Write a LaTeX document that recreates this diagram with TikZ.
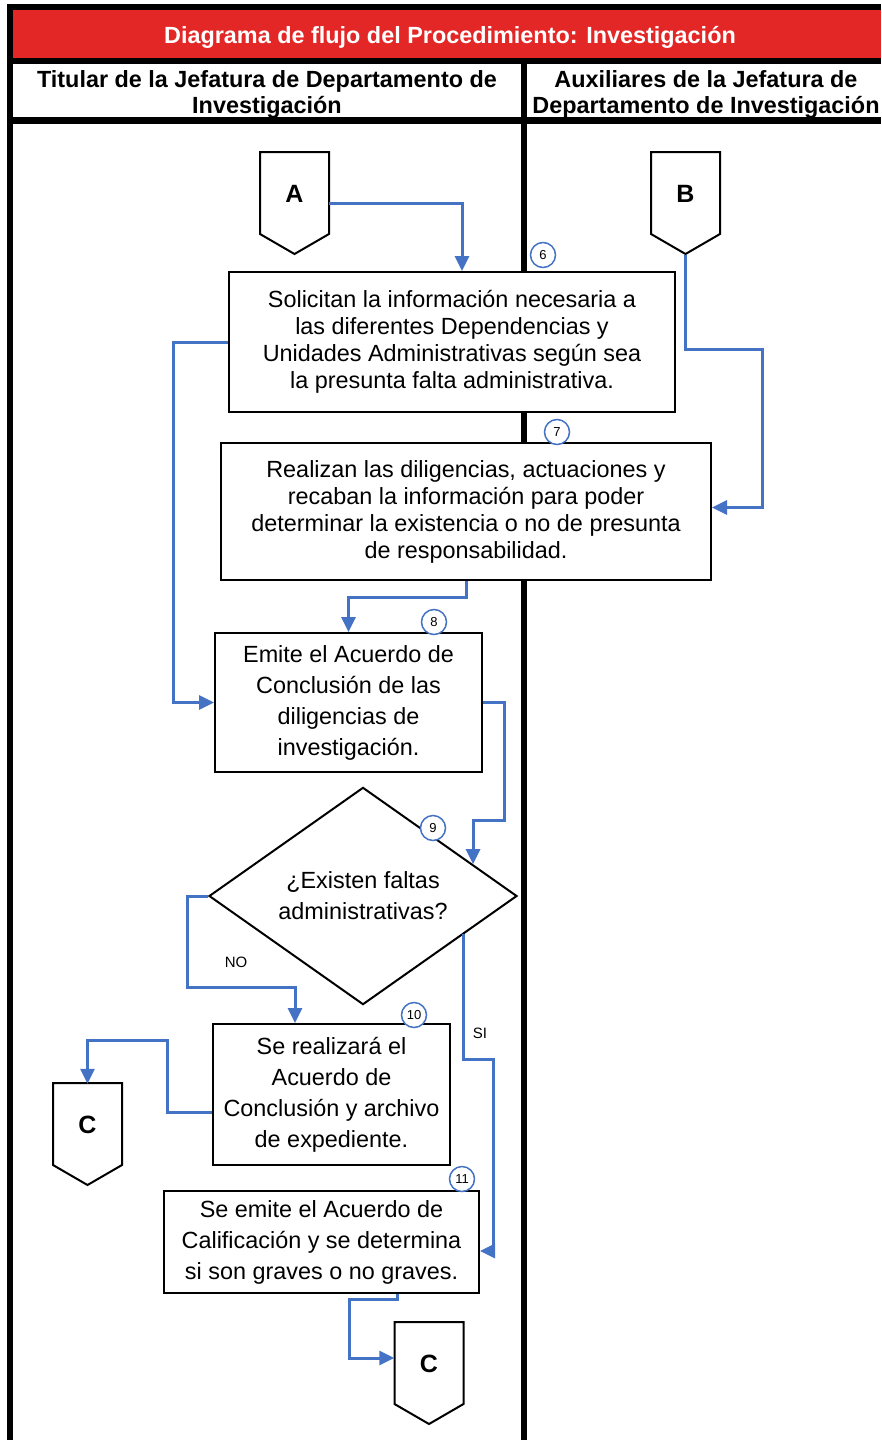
\documentclass[tikz,border=0pt]{standalone}
\usepackage{fontspec}
\setmainfont{Liberation Sans}
\usetikzlibrary{arrows.meta,calc,positioning,shapes.geometric}
\definecolor{bandred}{HTML}{E32726}
\definecolor{flowblue}{HTML}{4472C4}
\tikzset{procbox/.style={draw=black,line width=2pt,fill=white,inner sep=0pt,align=center,font=\fontsize{23.4}{27}\selectfont},
tallbox/.style={procbox,font=\fontsize{23.4}{31}\selectfont},
decision/.style={diamond,draw=black,line width=2pt,fill=white,inner sep=0pt,align=center,minimum width=308pt,minimum height=206pt,font=\fontsize{23.4}{31}\selectfont},
offpage/.style={minimum width=69pt,minimum height=82pt,inner sep=0pt,font=\bfseries\fontsize{25}{25}\selectfont},
offline/.style={draw=black,line width=2pt,fill=white,line join=miter},
flow/.style={draw=flowblue,line width=3pt,-{Triangle[length=15pt,width=14pt]}},
stepnum/.style={circle,draw=flowblue,line width=1.5pt,fill=white,minimum size=25pt,inner sep=0pt,font=\fontsize{13}{13}\selectfont},
lanehead/.style={font=\bfseries\fontsize{23.4}{26}\selectfont,align=center},
laneline/.style={draw=black,line width=6pt},
branch/.style={font=\fontsize{15}{15}\selectfont}}
\begin{document}
\begin{tikzpicture}[x=1pt,y=-1pt]
\useasboundingbox (0,0) rectangle (881,1440);
% swimlane frame
\fill[bandred] (13,10) rectangle (881,58);
\draw[laneline] (7,7) -- (881,7);
\draw[laneline] (7,61) -- (881,61);
\draw[laneline,line width=7pt] (7,120.5) -- (881,120.5);
\draw[laneline] (10,4) -- (10,1440);
\draw[laneline] (524,61) -- (524,1440);
\node[lanehead,text=white] (title) at (450,37) {Diagrama de flujo del Procedimiento: Investigación};
\node[lanehead] (lane1) at (267,94) {Titular de la Jefatura de Departamento de\\Investigación};
\node[lanehead] (lane2) at (706,94) {Auxiliares de la Jefatura de\\Departamento de Investigación};
% off-page connectors
\foreach \n/\l/\x/\y in {A/A/294.5/152,B/B/685.5/152,C1/C/87.5/1083,C2/C/429/1322}{
\draw[offline] (\x-34.5,\y) -- (\x+34.5,\y) -- (\x+34.5,\y+82) -- (\x,\y+102) -- (\x-34.5,\y+82) -- cycle;
\node[offpage] (\n) at (\x,\y+42) {\l};}
% activities
\node[procbox,minimum width=446pt,minimum height=140pt] (box6) at (452,342) {Solicitan la información necesaria a\\las diferentes Dependencias y\\Unidades Administrativas según sea\\la presunta falta administrativa.};
\node[procbox,minimum width=490pt,minimum height=137pt] (box7) at (466,511.5) {Realizan las diligencias, actuaciones y\\recaban la información para poder\\determinar la existencia o no de presunta\\de responsabilidad.};
\node[tallbox,minimum width=267pt,minimum height=139pt] (box8) at (348.5,702.5) {Emite el Acuerdo de\\Conclusión de las\\diligencias de\\investigación.};
\node[decision] (dec) at (363,896) {¿Existen faltas\\administrativas?};
\node[tallbox,minimum width=237pt,minimum height=141pt] (box10) at (331.5,1094.5) {Se realizará el\\Acuerdo de\\Conclusión y archivo\\de expediente.};
\node[tallbox,minimum width=315pt,minimum height=102pt] (box11) at (321.5,1242) {Se emite el Acuerdo de\\Calificación y se determina\\si son graves o no graves.};
% connectors
\draw[flow] ([yshift=-9pt]A.east) -| ([xshift=10pt]box6.north);
\draw[flow] ([yshift=-20pt]B.south) -- ++(0,94) -- ++(76.5,0) |- ([yshift=4pt]box7.east);
\draw[flow] (box6.west) -- ++(-55,0) |- (box8.west);
\draw[flow] (box7.south) -- ++(0,16) -| (box8.north);
\draw[flow] (box8.east) -- ++(21,0) -- ++(0,118) -| ($(dec.north)!0.71!(dec.east)$);
\draw[flow] (dec.west) -- ++(-21,0) -- ++(0,91) -| ([xshift=-36.5pt]box10.north);
\draw[flow] ($(dec.east)!0.35!(dec.south)$) -- ++(0,125) -- ++(30,0) |- ([yshift=-9pt]box11.east);
\draw[flow] ([yshift=-18pt]box10.west) -- ++(-45,0) -- ++(0,-72) -| (C1.north);
\draw[flow] ([xshift=75.5pt]box11.south) -- ++(0,5) -- ++(-48,0) |- ([yshift=6pt]C2.west);
\node[branch] (no) at (236,962) {NO};
\node[branch] (si) at (480,1033) {SI};
% step numbers
\node[stepnum] (n6) at (543,255) {6};
\node[stepnum] (n7) at (557,432) {7};
\node[stepnum] (n8) at (434,622) {8};
\node[stepnum] (n9) at (433,828) {9};
\node[stepnum] (n10) at (414,1015) {10};
\node[stepnum] (n11) at (462,1179) {11};
\end{tikzpicture}
\end{document}
